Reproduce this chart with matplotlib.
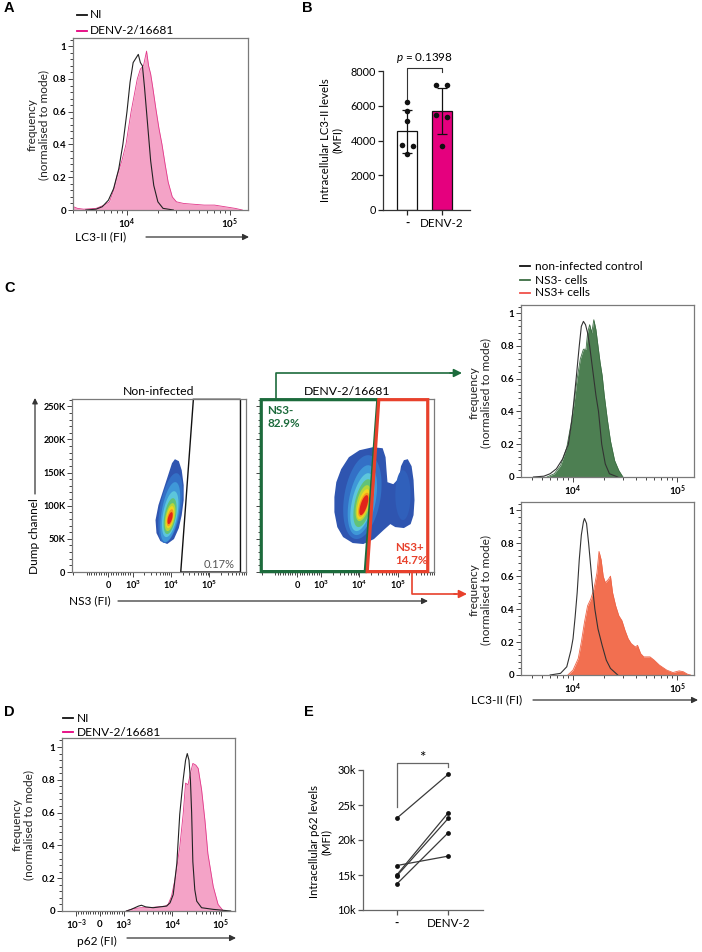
import numpy as np
import matplotlib
matplotlib.use('Agg')
import matplotlib.pyplot as plt
from matplotlib.lines import Line2D
from matplotlib.patches import FancyArrowPatch, Polygon
from matplotlib.ticker import AutoMinorLocator, MultipleLocator, NullFormatter

plt.rcParams['font.family'] = ['Lato', 'DejaVu Sans']
plt.rcParams['mathtext.fontset'] = 'custom'
plt.rcParams['mathtext.rm'] = 'Lato'
plt.rcParams['mathtext.it'] = 'Lato:italic'
plt.rcParams['mathtext.bf'] = 'Lato:bold'

# ---------------- DATA ----------------
# Panel A: LC3-II histograms (x as log10 of fluorescence, y normalised to mode)
A_NI_LOGX = [3.60, 3.70, 3.76, 3.82, 3.87, 3.92, 3.96, 4.00, 4.03, 4.06, 4.09, 4.11, 4.13, 4.15,
             4.17, 4.19, 4.21, 4.23, 4.26, 4.30, 4.35, 4.45]
A_NI_Y = [0, 0.005, 0.02, 0.06, 0.13, 0.25, 0.40, 0.60, 0.78, 0.90, 0.93, 0.95, 0.90, 0.88,
          0.75, 0.60, 0.45, 0.30, 0.15, 0.05, 0.01, 0]
A_DENV_LOGX = [3.48, 3.52, 3.58, 3.70, 3.78, 3.83, 3.87, 3.90, 3.95, 3.99, 4.02, 4.04, 4.07, 4.10,
               4.13, 4.16, 4.19, 4.21, 4.23, 4.25, 4.28, 4.31, 4.34, 4.37, 4.40, 4.44, 4.48,
               4.55, 4.65, 4.75, 4.85, 4.95, 5.05, 5.12]
A_DENV_Y = [0.02, 0.01, 0.005, 0.01, 0.03, 0.05, 0.12, 0.20, 0.30, 0.40, 0.52, 0.60, 0.70, 0.80,
            0.86, 0.88, 0.97, 0.88, 0.83, 0.75, 0.62, 0.50, 0.40, 0.28, 0.17, 0.08, 0.05,
            0.04, 0.035, 0.03, 0.03, 0.02, 0.01, 0.0]

# Panel B: intracellular LC3-II (MFI)
B_GROUPS = ['-', 'DENV-2']
B_MEANS = [4530, 5690]
B_SD = [1245, 1340]
B_CTRL_POINTS = [6200, 5700, 5150, 3750, 3700, 3250]
B_DENV_POINTS = [7220, 7220, 5450, 5350, 3700]
B_P_TEXT = r'$\it{p}$ = 0.1398'

# Panel C: dot plots (NS3 vs dump channel, y in thousands)
NONINF_OUTER_LOGX = [4.101, 4.203, 4.278, 4.329, 4.329, 4.278, 4.203, 4.076, 3.899, 3.722,
                     3.620, 3.595, 3.671, 3.797, 3.924, 4.025]
NONINF_OUTER_Y = [170.2, 167.2, 153.6, 131.0, 108.4, 85.8, 66.3, 49.7, 42.2, 46.7,
                  58.7, 78.3, 100.9, 123.5, 146.1, 164.2]
NONINF_LEVEL_CX = [3.985, 3.980, 3.978, 3.975, 3.975, 3.975, 3.975, 3.975]
NONINF_LEVEL_CY = [96.4, 90.4, 87.3, 84.3, 82.8, 82.8, 82.0, 81.3]
NONINF_LEVEL_RX = [0.278, 0.228, 0.190, 0.152, 0.122, 0.096, 0.076, 0.056]
NONINF_LEVEL_RY = [52.7, 45.2, 34.6, 27.1, 21.1, 16.6, 12.8, 9.0]
NONINF_LEVEL_SH = [0.152, 0.127, 0.101, 0.076, 0.065, 0.05, 0.045, 0.038]

DENV_OUTER_LOGX = [4.354, 4.608, 4.684, 4.709, 4.734, 4.886, 5.038, 5.089, 5.165, 5.266, 5.367,
                   5.418, 5.443, 5.418, 5.342, 5.165, 4.937, 4.810, 4.633, 4.380, 4.101, 3.823,
                   3.570, 3.418, 3.342, 3.342, 3.392, 3.519, 3.722, 4.000]
DENV_OUTER_Y = [188.3, 186.7, 173.2, 153.6, 135.5, 132.5, 141.6, 159.6, 168.7, 170.2, 159.6,
                138.6, 108.4, 85.8, 72.3, 66.3, 67.8, 72.3, 63.3, 49.7, 42.2, 43.7,
                52.7, 67.8, 90.4, 113.0, 135.5, 155.1, 173.2, 183.7]
DENV_LOBE_CX, DENV_LOBE_CY, DENV_LOBE_RX, DENV_LOBE_RY = 5.14, 116.0, 0.20, 37.6
DENV_LEVEL_CX = [4.076, 4.076, 4.076, 4.101, 4.101, 4.101, 4.110, 4.114]
DENV_LEVEL_CY = [113.0, 108.4, 105.4, 103.9, 103.9, 102.4, 101.5, 100.9]
DENV_LEVEL_RX = [0.48, 0.354, 0.278, 0.228, 0.177, 0.139, 0.114, 0.089]
DENV_LEVEL_RY = [63.3, 52.7, 43.7, 36.1, 27.1, 22.6, 18.1, 15.1]
DENV_LEVEL_SH = [0.152, 0.152, 0.152, 0.127, 0.101, 0.101, 0.09, 0.076]

GATE_NONINF_LOGX = [4.253, 4.582, 5.81, 5.81]
GATE_NONINF_Y = [0, 260.5, 260.5, 0]
GATE_NEG_LOGX = [None, 4.481, 4.152, None]
GATE_NEG_Y = [260, 260, 0.6, 0.6]
GATE_POS_LOGX = [4.506, 5.79, 5.79, 4.203]
GATE_POS_Y = [260, 260, 0.6, 0.6]

# Panel C right histograms
C_NI_TOP_LOGX = [3.62, 3.72, 3.78, 3.84, 3.90, 3.955, 3.99, 4.03, 4.06, 4.08, 4.10, 4.12, 4.14,
                 4.16, 4.18, 4.20, 4.22, 4.245, 4.276, 4.31, 4.35, 4.43]
C_NI_TOP_Y = [0, 0.005, 0.02, 0.05, 0.11, 0.20, 0.35, 0.60, 0.80, 0.92, 0.95, 0.93, 0.88,
              0.80, 0.70, 0.60, 0.50, 0.40, 0.20, 0.08, 0.02, 0]
C_NEG_LOGX = [3.75, 3.82, 3.88, 3.94, 3.98, 4.01, 4.04, 4.07, 4.10, 4.125, 4.14, 4.16, 4.18,
              4.20, 4.22, 4.24, 4.26, 4.28, 4.30, 4.33, 4.36, 4.40, 4.44, 4.48]
C_NEG_Y = [0, 0.02, 0.07, 0.18, 0.32, 0.45, 0.60, 0.72, 0.78, 0.78, 0.88, 0.93, 0.88,
           0.96, 0.90, 0.80, 0.70, 0.62, 0.50, 0.35, 0.22, 0.10, 0.04, 0]
C_NI_BOT_LOGX = [3.78, 3.88, 3.94, 3.98, 4.00, 4.02, 4.04, 4.06, 4.08, 4.10, 4.11, 4.13, 4.15,
                 4.17, 4.19, 4.21, 4.24, 4.28, 4.32, 4.36, 4.43]
C_NI_BOT_Y = [0, 0.01, 0.05, 0.15, 0.22, 0.35, 0.50, 0.70, 0.85, 0.93, 0.95, 0.92, 0.80,
              0.66, 0.52, 0.40, 0.28, 0.18, 0.09, 0.04, 0]
C_POS_LOGX = [3.95, 4.00, 4.05, 4.08, 4.11, 4.14, 4.17, 4.20, 4.23, 4.25, 4.27, 4.29, 4.31,
              4.34, 4.36, 4.38, 4.41, 4.44, 4.47, 4.50, 4.53, 4.56, 4.60, 4.62, 4.65, 4.68,
              4.74, 4.78, 4.83, 4.90, 4.96, 5.02, 5.06, 5.10, 5.13]
C_POS_Y = [0, 0.03, 0.10, 0.20, 0.32, 0.42, 0.46, 0.52, 0.62, 0.75, 0.70, 0.60, 0.56,
           0.58, 0.60, 0.50, 0.42, 0.36, 0.33, 0.27, 0.22, 0.19, 0.17, 0.18, 0.13, 0.11,
           0.11, 0.09, 0.06, 0.03, 0.015, 0.025, 0.02, 0.005, 0]

# Panel D: p62 histograms
D_NI_LOGX = [3.05, 3.15, 3.30, 3.36, 3.45, 3.60, 3.74, 3.88, 3.95, 4.015, 4.09, 4.15, 4.22,
             4.27, 4.305, 4.34, 4.37, 4.395, 4.42, 4.46, 4.50, 4.60, 4.84, 5.20]
D_NI_Y = [0, 0.01, 0.03, 0.035, 0.025, 0.02, 0.025, 0.03, 0.05, 0.10, 0.29, 0.59, 0.80,
          0.92, 0.96, 0.92, 0.80, 0.60, 0.30, 0.13, 0.06, 0.02, 0.01, 0]
D_DENV_LOGX = [3.05, 3.20, 3.35, 3.50, 3.70, 3.85, 3.91, 3.98, 4.05, 4.15, 4.22, 4.27, 4.32,
               4.37, 4.42, 4.48, 4.53, 4.60, 4.67, 4.73, 4.84, 4.94, 5.05]
D_DENV_Y = [0, 0.015, 0.02, 0.02, 0.025, 0.03, 0.04, 0.09, 0.19, 0.39, 0.59, 0.78, 0.77,
            0.84, 0.90, 0.89, 0.87, 0.74, 0.55, 0.35, 0.15, 0.04, 0.0]

# Panel E: intracellular p62 (MFI), paired donors
E_GROUPS = ['-', 'DENV-2']
E_CTRL = [23100, 16350, 15000, 14850, 13700]
E_DENV = [29400, 17700, 23900, 23100, 21050]

HIST_YTICKS = [0, 0.2, 0.4, 0.6, 0.8, 1.0]
HIST_YTICK_LABELS = ['0', '0.2', '0.4', '0.6', '0.8', '1']
HIST_XTICKS = [1e4, 1e5]
HIST_XTICK_LABELS = [r'$\mathbf{10^4}$', r'$\mathbf{10^5}$']
DOT_XTICKS = [0, 1e3, 1e4, 1e5]
DOT_XTICK_LABELS = [r'$\mathbf{0}$', r'$\mathbf{10^3}$', r'$\mathbf{10^4}$', r'$\mathbf{10^5}$']
DOT_YTICKS = [0, 50, 100, 150, 200, 250]
DOT_YTICK_LABELS = ['0', '50K', '100K', '150K', '200K', '250K']
D_XTICKS = [-1e3, 0, 1e3, 1e4, 1e5]
D_XTICK_LABELS = [r'$\mathbf{10^{-3}}$', r'$\mathbf{0}$', r'$\mathbf{10^3}$', r'$\mathbf{10^4}$', r'$\mathbf{10^5}$']
B_YTICKS = [0, 2000, 4000, 6000, 8000]
E_YTICKS = [10000, 15000, 20000, 25000, 30000]
E_YTICK_LABELS = ['10k', '15k', '20k', '25k', '30k']

# ---------------- STYLE ----------------
PINK_FILL, PINK_EDGE = '#f4a3c7', '#e2388a'
MAGENTA = '#e5007e'
GREEN_FILL, GREEN_EDGE = '#4d7f52', '#3c6d43'
ORANGE_FILL, ORANGE_EDGE = '#f26f50', '#ee6447'
GATE_GREEN, GATE_RED = '#1c6b3c', '#e8412c'
JET = ['#2f55b0', '#3370c6', '#3f98d8', '#5cc6dc', '#62c278', '#b5d63a', '#f2d41f', '#f39a1e', '#e2231a']
FRAME = '#7a7a7a'

W, H = 702, 952
fig = plt.figure(figsize=(W / 100, H / 100), dpi=100)


def add_ax(l, t, r, b):
    return fig.add_axes([l / W, 1 - b / H, (r - l) / W, (b - t) / H])


def fp(x, y):
    return (x / W, 1 - y / H)


def ftext(x, y, s, **kw):
    fig.text(x / W, 1 - y / H, s, **kw)


def fline(xs, ys, **kw):
    fig.add_artist(Line2D([x / W for x in xs], [1 - y / H for y in ys],
                          transform=fig.transFigure, **kw))


def farrow(x0, y0, x1, y1, color, lw=0.9, ms=9):
    fig.add_artist(FancyArrowPatch(fp(x0, y0), fp(x1, y1), transform=fig.transFigure,
                                   arrowstyle='-|>', mutation_scale=ms, color=color, lw=lw,
                                   shrinkA=0, shrinkB=0))


def style_frame(ax):
    for s in ax.spines.values():
        s.set_color(FRAME)
        s.set_linewidth(0.9)
    ax.tick_params(which='both', direction='out', color='#444444', width=0.7, labelsize=7, pad=1.2)
    ax.tick_params(which='major', length=3.5)
    ax.tick_params(which='minor', length=2)


def style_hist(ax, xmin_log, xmax_log):
    ax.set_xscale('log')
    ax.set_xlim(10 ** xmin_log, 10 ** xmax_log)
    ax.set_ylim(0, 1.05)
    ax.set_xticks(HIST_XTICKS)
    ax.set_xticklabels(HIST_XTICK_LABELS)
    ax.xaxis.set_minor_formatter(NullFormatter())
    ax.set_yticks(HIST_YTICKS)
    ax.set_yticklabels(HIST_YTICK_LABELS, fontweight='bold')
    ax.yaxis.set_minor_locator(AutoMinorLocator(5))
    style_frame(ax)


def hist_ylabel(x, y):
    ftext(x, y, 'frequency\n(normalised to mode)', rotation=90, ha='center', va='center',
          fontsize=8.6, linespacing=1.05, color='#222222')


def sheared_ellipse(cx, cy, rx, ry, sh, n=90):
    t = np.linspace(0, 2 * np.pi, n)
    lx = cx + rx * np.cos(t) + sh * np.sin(t)
    yy = cy + ry * np.sin(t)
    return 10 ** lx, yy


DOT_XMIN, DOT_XMAX = -2070, 10 ** 5.823


def style_dot(ax, ylabels=True):
    ax.set_xscale('symlog', linthresh=1000, linscale=0.57)
    ax.set_xlim(DOT_XMIN, DOT_XMAX)
    ax.set_ylim(0, 261)
    ax.set_xticks(DOT_XTICKS)
    ax.set_xticklabels(DOT_XTICK_LABELS)
    minors = [-2000] + [v for v in range(-900, 1000, 100) if v != 0] + \
             [k * 10 ** d for d in (3, 4, 5) for k in range(2, 10)]
    ax.set_xticks(minors, minor=True)
    ax.xaxis.set_minor_formatter(NullFormatter())
    ax.set_yticks(DOT_YTICKS)
    if ylabels:
        ax.set_yticklabels(DOT_YTICK_LABELS, fontweight='bold')
    else:
        ax.set_yticklabels([])
    ax.yaxis.set_minor_locator(MultipleLocator(10))
    style_frame(ax)
    ax.tick_params(labelsize=6.6)


# ---------------- PANEL A ----------------
axA = add_ax(73, 38, 248, 210)
axA.fill_between(10 ** np.array(A_DENV_LOGX), A_DENV_Y, color=PINK_FILL, lw=0)
axA.plot(10 ** np.array(A_DENV_LOGX), A_DENV_Y, color=PINK_EDGE, lw=0.6)
axA.plot(10 ** np.array(A_NI_LOGX), A_NI_Y, color='#222222', lw=0.8)
style_hist(axA, 3.476, 5.175)
hist_ylabel(38, 125)
ftext(75, 237, 'LC3-II (FI)', ha='left', va='center', fontsize=8.6)
farrow(146, 237, 249, 237, '#333333')
fline([77, 87], [15, 15], color='#111111', lw=1.3)
ftext(90, 15, 'NI', va='center', fontsize=8.6)
fline([77, 87], [31, 31], color=MAGENTA, lw=1.3)
ftext(90, 31, 'DENV-2/16681', va='center', fontsize=8.6)
ftext(4, 8, 'A', fontsize=10.5, fontweight='bold', family='Liberation Sans', va='center')

# ---------------- PANEL B ----------------
axB = add_ax(383, 71, 470, 210)
xb = np.arange(len(B_GROUPS))
axB.bar(xb, B_MEANS, width=0.571, color=['white', MAGENTA], edgecolor='#111111', lw=0.9, zorder=1)
axB.errorbar(xb, B_MEANS, yerr=B_SD, fmt='none', ecolor='#111111', elinewidth=0.9,
             capsize=3.5, capthick=0.9, zorder=2)
jit_ctrl = [0, 0, 0, -0.15, 0.18, 0]
jit_denv = [-0.16, 0.15, -0.16, 0.15, 0]
axB.scatter(xb[0] + np.array(jit_ctrl), B_CTRL_POINTS, s=16, color='#111111', zorder=3, lw=0)
axB.scatter(xb[1] + np.array(jit_denv), B_DENV_POINTS, s=16, color='#111111', zorder=3, lw=0)
axB.set_xlim(-0.686, 1.8)
axB.set_ylim(0, 8000)
axB.set_yticks(B_YTICKS)
axB.set_xticks(xb)
axB.set_xticklabels(B_GROUPS, fontsize=8.4)
axB.get_xticklabels()[0].set_fontweight('bold')
axB.tick_params(axis='y', labelsize=7.8, length=3.5, width=0.9, pad=1.5, color='#222222')
axB.tick_params(axis='x', length=3.5, width=0.9, pad=2, color='#222222')
for s in ['top', 'right']:
    axB.spines[s].set_visible(False)
for s in ['left', 'bottom']:
    axB.spines[s].set_linewidth(0.9)
    axB.spines[s].set_color('#333333')
axB.plot([0, 0, 1, 1], [6400, 8170, 8170, 7950], color='#333333', lw=0.8, clip_on=False)
axB.text(0.5, 8720, B_P_TEXT, ha='center', va='center', fontsize=8.4)
ftext(331, 140, 'Intracellular LC3-II levels\n(MFI)', rotation=90, ha='center', va='center',
      fontsize=8.2, linespacing=1.1)
ftext(302, 8, 'B', fontsize=10.5, fontweight='bold', family='Liberation Sans', va='center')

# ---------------- PANEL C: dot plots ----------------
ftext(4, 288, 'C', fontsize=10.5, fontweight='bold', family='Liberation Sans', va='center')

axC1 = add_ax(72, 399, 246, 572)
style_dot(axC1)
axC1.fill(10 ** np.array(NONINF_OUTER_LOGX), NONINF_OUTER_Y, color=JET[0], lw=0)
for i in range(len(NONINF_LEVEL_CX)):
    xs, ys = sheared_ellipse(NONINF_LEVEL_CX[i], NONINF_LEVEL_CY[i], NONINF_LEVEL_RX[i],
                             NONINF_LEVEL_RY[i], NONINF_LEVEL_SH[i])
    axC1.fill(xs, ys, color=JET[i + 1], lw=0)
axC1.add_patch(Polygon(np.column_stack([10 ** np.array(GATE_NONINF_LOGX), GATE_NONINF_Y]),
                       closed=True, fill=False, ec='#111111', lw=1.0, clip_on=False))
axC1.text(10 ** 5.67, 12, '0.17%', ha='right', va='center', fontsize=8, color='#555555')
axC1.set_title('Non-infected', fontsize=8.8, pad=3)

axC2 = add_ax(261, 399, 434, 572)
style_dot(axC2, ylabels=False)
axC2.fill(10 ** np.array(DENV_OUTER_LOGX), DENV_OUTER_Y, color=JET[0], lw=0)
xs, ys = sheared_ellipse(DENV_LOBE_CX, DENV_LOBE_CY, DENV_LOBE_RX, DENV_LOBE_RY, 0.0)
axC2.fill(xs, ys, color='#3060bb', lw=0)
for i in range(len(DENV_LEVEL_CX)):
    xs, ys = sheared_ellipse(DENV_LEVEL_CX[i], DENV_LEVEL_CY[i], DENV_LEVEL_RX[i],
                             DENV_LEVEL_RY[i], DENV_LEVEL_SH[i])
    axC2.fill(xs, ys, color=JET[i + 1], lw=0)
neg_x = [DOT_XMIN * 0.985 if v is None else 10 ** v for v in GATE_NEG_LOGX]
axC2.add_patch(Polygon(np.column_stack([neg_x, GATE_NEG_Y]), closed=True, fill=False,
                       ec=GATE_GREEN, lw=2.3, clip_on=False, joinstyle='miter', zorder=5))
axC2.add_patch(Polygon(np.column_stack([10 ** np.array(GATE_POS_LOGX), GATE_POS_Y]), closed=True,
                       fill=False, ec=GATE_RED, lw=2.3, clip_on=False, joinstyle='miter', zorder=5))
axC2.set_title('DENV-2/16681', fontsize=8.8, pad=3)
ftext(267, 417, 'NS3-\n82.9%', ha='left', va='center', fontsize=8.4, fontweight='bold',
      color=GATE_GREEN, linespacing=1.15)
ftext(395, 554, 'NS3+\n14.7%', ha='left', va='center', fontsize=8.4, fontweight='bold',
      color=GATE_RED, linespacing=1.15)

# y label with arrow and x label with arrow
ftext(35, 536, 'Dump channel', rotation=90, ha='center', va='center', fontsize=8.6)
farrow(35, 494, 35, 398, '#333333', ms=8)
ftext(90, 601, 'NS3 (FI)', ha='center', va='center', fontsize=8.6)
farrow(118, 601, 428, 601, '#333333')

# connectors
fline([276, 276, 452], [398, 373, 373], color=GATE_GREEN, lw=1.2)
farrow(450, 373, 462, 373, GATE_GREEN, lw=1.2, ms=12)
fline([412, 412, 456], [573, 594, 594], color=GATE_RED, lw=1.2)
farrow(454, 594, 467, 594, GATE_RED, lw=1.2, ms=12)

# ---------------- PANEL C: right histograms ----------------
axC3 = add_ax(521, 305, 694, 477)
axC3.fill_between(10 ** np.array(C_NEG_LOGX), C_NEG_Y, color=GREEN_FILL, lw=0)
axC3.plot(10 ** np.array(C_NEG_LOGX), C_NEG_Y, color=GREEN_EDGE, lw=0.6)
axC3.plot(10 ** np.array(C_NI_TOP_LOGX), C_NI_TOP_Y, color='#333333', lw=0.8)
style_hist(axC3, 3.50, 5.163)
hist_ylabel(480, 393)

axC4 = add_ax(521, 502, 694, 675)
axC4.fill_between(10 ** np.array(C_POS_LOGX), C_POS_Y, color=ORANGE_FILL, lw=0)
axC4.plot(10 ** np.array(C_POS_LOGX), C_POS_Y, color=ORANGE_EDGE, lw=0.6)
axC4.plot(10 ** np.array(C_NI_BOT_LOGX), C_NI_BOT_Y, color='#333333', lw=0.8)
style_hist(axC4, 3.50, 5.163)
hist_ylabel(480, 590)
ftext(497, 700, 'LC3-II (FI)', ha='center', va='center', fontsize=8.6)
farrow(533, 700, 698, 700, '#333333')

fline([520, 530], [266, 266], color='#111111', lw=1.3)
ftext(535, 266, 'non-infected control', va='center', fontsize=8.6)
fline([520, 530], [280, 280], color=GREEN_EDGE, lw=1.3)
ftext(535, 280, 'NS3- cells', va='center', fontsize=8.6)
fline([520, 530], [293, 293], color='#f0504a', lw=1.3)
ftext(535, 293, 'NS3+ cells', va='center', fontsize=8.6)

# ---------------- PANEL D ----------------
axD = add_ax(62, 738, 235, 911)
axD.set_xscale('symlog', linthresh=1000, linscale=0.445)
axD.fill_between(10 ** np.array(D_DENV_LOGX), D_DENV_Y, color=PINK_FILL, lw=0)
axD.plot(10 ** np.array(D_DENV_LOGX), D_DENV_Y, color=PINK_EDGE, lw=0.6)
axD.plot(10 ** np.array(D_NI_LOGX), D_NI_Y, color='#222222', lw=0.8)
axD.set_xlim(-1943, 194500)
axD.set_ylim(0, 1.055)
axD.set_xticks(D_XTICKS)
axD.set_xticklabels(D_XTICK_LABELS)
d_minors = [v for v in range(-900, 1000, 100) if v != 0] + \
           [k * 10 ** d for d in (3, 4) for k in range(2, 10)]
axD.set_xticks(d_minors, minor=True)
axD.xaxis.set_minor_formatter(NullFormatter())
axD.set_yticks(HIST_YTICKS)
axD.set_yticklabels(HIST_YTICK_LABELS, fontweight='bold')
axD.yaxis.set_minor_locator(AutoMinorLocator(5))
style_frame(axD)
hist_ylabel(23, 825)
ftext(97, 941, 'p62 (FI)', ha='center', va='center', fontsize=8.6)
farrow(127, 938, 236, 938, '#333333')
fline([63, 73], [718, 718], color='#111111', lw=1.3)
ftext(77, 718, 'NI', va='center', fontsize=8.6)
fline([63, 73], [732, 732], color=MAGENTA, lw=1.3)
ftext(77, 732, 'DENV-2/16681', va='center', fontsize=8.6)
ftext(4, 712, 'D', fontsize=10.5, fontweight='bold', family='Liberation Sans', va='center')

# ---------------- PANEL E ----------------
axE = add_ax(363, 770, 483, 910)
xe = np.arange(len(E_GROUPS))
for c, d in zip(E_CTRL, E_DENV):
    axE.plot(xe, [c, d], color='#3a3a3a', lw=0.9, zorder=1)
axE.scatter(np.zeros(len(E_CTRL)), E_CTRL, s=12, color='#111111', zorder=2, lw=0)
axE.scatter(np.ones(len(E_DENV)), E_DENV, s=12, color='#111111', zorder=2, lw=0)
axE.set_xlim(-0.653, 1.672)
axE.set_ylim(10000, 30000)
axE.set_yticks(E_YTICKS)
axE.set_yticklabels(E_YTICK_LABELS)
axE.set_xticks(xe)
axE.set_xticklabels(E_GROUPS, fontsize=8.4)
axE.get_xticklabels()[0].set_fontweight('bold')
axE.tick_params(axis='y', labelsize=8, length=3.5, width=0.9, pad=1.5, color='#555555')
axE.tick_params(axis='x', length=3.5, width=0.9, pad=2, color='#555555')
for s in ['top', 'right']:
    axE.spines[s].set_visible(False)
for s in ['left', 'bottom']:
    axE.spines[s].set_linewidth(0.9)
    axE.spines[s].set_color('#666666')
axE.plot([0, 0, 1, 1], [24670, 31040, 31040, 30390], color='#666666', lw=0.9, clip_on=False)
axE.text(0.5, 31700, '*', ha='center', va='center', fontsize=11)
ftext(320, 842, 'Intracellular p62 levels\n(MFI)', rotation=90, ha='center', va='center',
      fontsize=8.2, linespacing=1.1)
ftext(304, 712, 'E', fontsize=10.5, fontweight='bold', family='Liberation Sans', va='center')

fig.savefig('out.png', dpi=100)
